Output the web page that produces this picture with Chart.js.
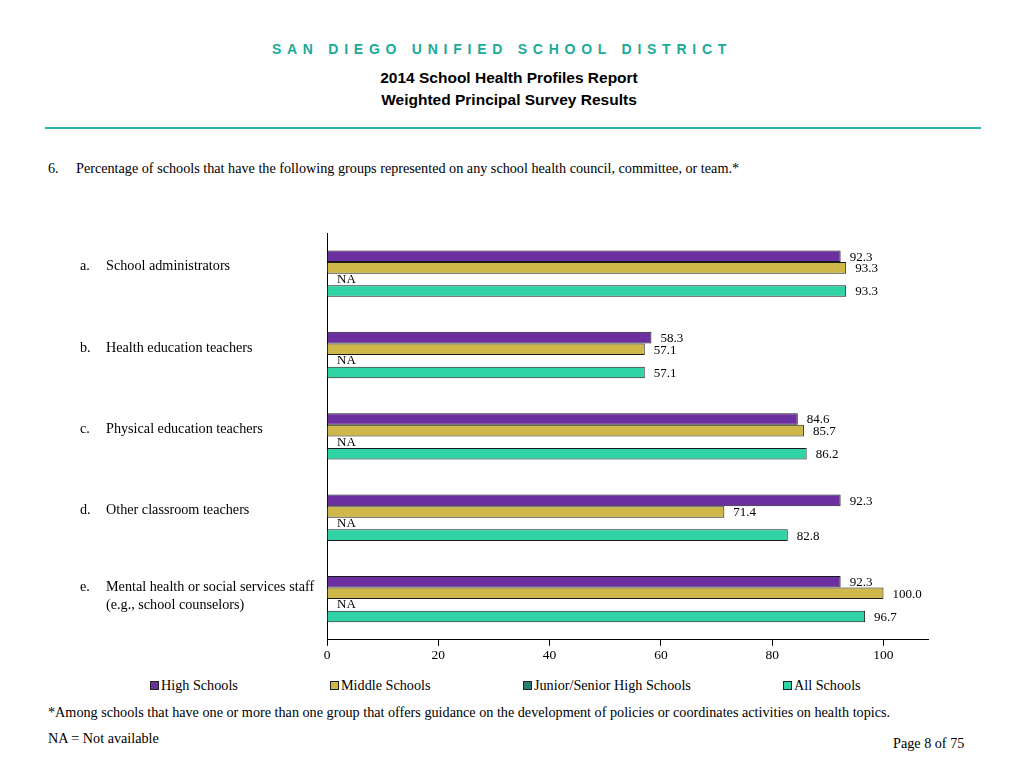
<!DOCTYPE html>
<html>
<head>
<meta charset="utf-8">
<script src="https://cdn.jsdelivr.net/npm/chart.js@4/dist/chart.umd.min.js"></script>
<style>
  body { margin: 0; width: 1024px; height: 768px; background: #fff; position: relative; font-family: "Liberation Serif", serif; color: #000; overflow: hidden; }
  .abs { position: absolute; white-space: nowrap; }
  #district { top: 41px; left: -10px; width: 1024px; text-align: center; font: bold 14px "Liberation Sans", Arial, sans-serif; letter-spacing: 5.75px; color: #1aab98; }
  .sub { left: -3px; width: 1024px; text-align: center; font: bold 15.5px "Liberation Sans", Arial, sans-serif; }
  #rule { top: 127px; left: 45px; width: 936px; height: 2px; background: #2ab7ad; }
  .serif { font-size: 14.2px; }
  .leg { top: 677px; font-size: 14.2px; }
  .leg i { display: inline-block; width: 7px; height: 7px; border: 1px solid #222; margin-right: 2px; vertical-align: 0px; }
  #wrap { position: absolute; left: 0; top: 220px; width: 1024px; height: 446px; }
</style>
</head>
<body>
<div id="district" class="abs">SAN DIEGO UNIFIED SCHOOL DISTRICT</div>
<div class="abs sub" style="top:69px">2014 School Health Profiles Report</div>
<div class="abs sub" style="top:91px">Weighted Principal Survey Results</div>
<div id="rule" class="abs"></div>
<div class="abs serif" style="top:160px;left:48px">6.</div>
<div class="abs serif" style="top:160px;left:76px">Percentage of schools that have the following groups represented on any school health council, committee, or team.*</div>

<div id="wrap"><canvas id="chart" width="1024" height="446"></canvas></div>

<div class="abs leg" style="left:150px"><i style="background:#6b2f9f"></i>High Schools</div>
<div class="abs leg" style="left:330px"><i style="background:#cfb84a"></i>Middle Schools</div>
<div class="abs leg" style="left:523px"><i style="background:#2a7d72"></i>Junior/Senior High Schools</div>
<div class="abs leg" style="left:783px"><i style="background:#2fd3a5"></i>All Schools</div>

<div class="abs serif" style="top:704px;left:48px">*Among schools that have one or more than one group that offers guidance on the development of policies or coordinates activities on health topics.</div>
<div class="abs serif" style="top:730px;left:48px">NA = Not available</div>
<div class="abs serif" style="top:735px;left:893px">Page 8 of 75</div>

<script>
const categories = ["a", "b", "c", "d", "e"]
const categoryLetters = ["a.", "b.", "c.", "d.", "e."]
const categoryText = [
  ["School administrators"],
  ["Health education teachers"],
  ["Physical education teachers"],
  ["Other classroom teachers"],
  ["Mental health or social services staff", "(e.g., school counselors)"]
]
const highSchools = [92.3, 58.3, 84.6, 92.3, 92.3]
const middleSchools = [93.3, 57.1, 85.7, 71.4, 100.0]
const juniorSeniorHigh = [null, null, null, null, null]
const allSchools = [93.3, 57.1, 86.2, 82.8, 96.7]
const xTicks = [0, 20, 40, 60, 80, 100]

const seriesConfig = [
  { label: "High Schools", data: highSchools, color: "#6b2f9f" },
  { label: "Middle Schools", data: middleSchools, color: "#cfb84a" },
  { label: "Junior/Senior High Schools", data: juniorSeniorHigh, color: "#2a7d72" },
  { label: "All Schools", data: allSchools, color: "#2fd3a5" }
]

const serif = "14.2px 'Liberation Serif', serif"

const labelsPlugin = {
  id: "labels",
  afterDatasetsDraw(chart) {
    const ctx = chart.ctx
    const area = chart.chartArea
    const yScale = chart.scales.y
    ctx.save()
    ctx.fillStyle = "#000"
    ctx.font = "13px 'Liberation Serif', serif"
    ctx.textBaseline = "middle"
    ctx.textAlign = "left"
    chart.data.datasets.forEach((ds, i) => {
      const meta = chart.getDatasetMeta(i)
      meta.data.forEach((el, j) => {
        const v = ds.data[j]
        let y = el.y
        if (!isFinite(y)) {
          const ref = chart.getDatasetMeta(0).data[j]
          y = ref.y + (ref.height || 11.5) * i
        }
        if (v === null || v === undefined) {
          ctx.fillText("NA", area.left + 10, y)
        } else {
          ctx.fillText(v.toFixed(1), el.x + 9, y + 1)
        }
      })
    })
    // category labels on the left
    ctx.font = serif
    categories.forEach((c, j) => {
      const cy = yScale.getPixelForValue(j)
      const lines = categoryText[j]
      const top = cy - 7 - (lines.length - 1) * 5
      ctx.fillText(categoryLetters[j], 80, top)
      lines.forEach((t, k) => ctx.fillText(t, 106, top + k * 18))
    })
    ctx.restore()
  }
}

new Chart(document.getElementById("chart"), {
  type: "bar",
  data: {
    labels: categories,
    datasets: seriesConfig.map((s) => ({
      label: s.label,
      data: s.data,
      backgroundColor: s.color,
      borderColor: "#1a1a1a",
      borderWidth: 1,
      categoryPercentage: 0.57,
      barPercentage: 1
    }))
  },
  options: {
    indexAxis: "y",
    responsive: false,
    animation: false,
    layout: { padding: { left: 319, right: 96, top: 13, bottom: 0 } },
    plugins: { legend: { display: false }, tooltip: { enabled: false } },
    scales: {
      x: {
        min: 0,
        max: 108,
        afterBuildTicks: (axis) => { axis.ticks = xTicks.map((v) => ({ value: v })) },
        grid: { drawOnChartArea: false, drawTicks: true, tickLength: 6, color: "#000" },
        border: { color: "#000", width: 1 },
        ticks: { color: "#000", font: { family: "'Liberation Serif', serif", size: 13.5 }, padding: 2, maxRotation: 0 }
      },
      y: {
        grid: { display: false },
        border: { color: "#000", width: 1 },
        ticks: { display: false }
      }
    }
  },
  plugins: [labelsPlugin]
})
</script>
</body>
</html>
